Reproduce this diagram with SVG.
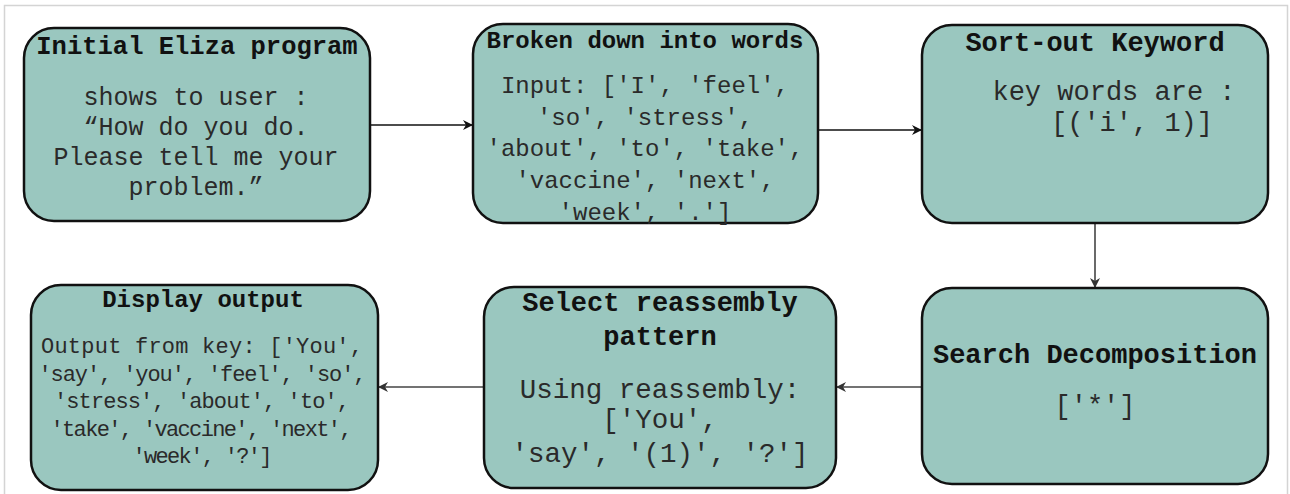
<svg xmlns="http://www.w3.org/2000/svg" width="1290" height="494" viewBox="0 0 1290 494">
<defs>
<style>
.box{fill:#9ac7bf;stroke:#111;stroke-width:2.5}
.t{font-family:"Liberation Mono","Courier New",monospace;font-weight:bold;fill:#111;text-anchor:middle}
.b{font-family:"Liberation Mono","Courier New",monospace;fill:#2a2a2a;text-anchor:middle}
.c{fill:none;stroke-width:1.6}
.frame{fill:none;stroke:#d4d4d4;stroke-width:1.5}
</style>
<marker id="ahb" viewBox="0 0 10 10" refX="9" refY="5" markerWidth="10" markerHeight="10" markerUnits="userSpaceOnUse" orient="auto">
<path d="M0,0 L10,5 L0,10 L3,5 z" fill="#111"/>
</marker>
<marker id="ahg" viewBox="0 0 10 10" refX="9" refY="5" markerWidth="10" markerHeight="10" markerUnits="userSpaceOnUse" orient="auto">
<path d="M0,0 L10,5 L0,10 L3,5 z" fill="#333"/>
</marker>
</defs>
<rect width="1290" height="494" fill="#ffffff"/>
<path class="frame" d="M4.5,494 V5.5 H1287.5 V494"/>

<g id="connectors">
<line class="c" x1="370" y1="125" x2="472" y2="125" stroke="#111" marker-end="url(#ahb)"/>
<line class="c" x1="818" y1="130" x2="921" y2="130" stroke="#111" marker-end="url(#ahb)"/>
<line class="c" x1="1095" y1="223" x2="1095" y2="287" stroke="#444" marker-end="url(#ahg)"/>
<line class="c" x1="922" y1="387" x2="837" y2="387" stroke="#444" marker-end="url(#ahg)"/>
<line class="c" x1="484" y1="387" x2="379" y2="387" stroke="#444" marker-end="url(#ahg)"/>
</g>

<g id="node-initial">
<rect class="box" x="24" y="28" width="346" height="193" rx="30"/>
<text class="t" x="197" y="54" font-size="25.5">Initial Eliza program</text>
<text class="b" font-size="25"><tspan x="196" y="105">shows to user :</tspan><tspan x="196" y="135">“How do you do.</tspan><tspan x="196" y="165">Please tell me your</tspan><tspan x="196" y="195">problem.”</tspan></text>
</g>

<g id="node-broken">
<rect class="box" x="473" y="24" width="345" height="199" rx="30"/>
<text class="t" x="645" y="48" font-size="24">Broken down into words</text>
<text class="b" font-size="24"><tspan x="645" y="93">Input: ['I', 'feel',</tspan><tspan x="645" y="124.5">'so', 'stress',</tspan><tspan x="645" y="156">'about', 'to', 'take',</tspan><tspan x="645" y="188">'vaccine', 'next',</tspan><tspan x="645" y="220">'week', '.']</tspan></text>
</g>

<g id="node-sort">
<rect class="box" x="922" y="25" width="346" height="198" rx="30"/>
<text class="t" x="1095" y="51" font-size="27">Sort-out Keyword</text>
<text class="b" font-size="27"><tspan x="1114" y="100">key words are :</tspan><tspan x="1132" y="131">[('i', 1)]</tspan></text>
</g>

<g id="node-search">
<rect class="box" x="922" y="288" width="346" height="196" rx="30"/>
<text class="t" x="1095" y="363" font-size="27">Search Decomposition</text>
<text class="b" x="1095" y="414" font-size="27">['*']</text>
</g>

<g id="node-select">
<rect class="box" x="484" y="287" width="352" height="201" rx="30"/>
<text class="t" font-size="27"><tspan x="660" y="311">Select reassembly</tspan><tspan x="660" y="345">pattern</tspan></text>
<text class="b" font-size="27.5"><tspan x="660" y="398">Using reassembly:</tspan><tspan x="660" y="428">['You',</tspan><tspan x="660" y="462">'say', '(1)', '?']</tspan></text>
</g>

<g id="node-display">
<rect class="box" x="31" y="285" width="347" height="205" rx="30"/>
<text class="t" x="203" y="307" font-size="24">Display output</text>
<text class="b" font-size="22"><tspan x="202" y="353" textLength="322">Output from key: ['You',</tspan><tspan x="202.5" y="380.5" textLength="328">'say', 'you', 'feel', 'so',</tspan><tspan x="202" y="408" textLength="296">'stress', 'about', 'to',</tspan><tspan x="201.5" y="435.5" textLength="302">'take', 'vaccine', 'next',</tspan><tspan x="202.5" y="463" textLength="140">'week', '?']</tspan></text>
</g>
</svg>
